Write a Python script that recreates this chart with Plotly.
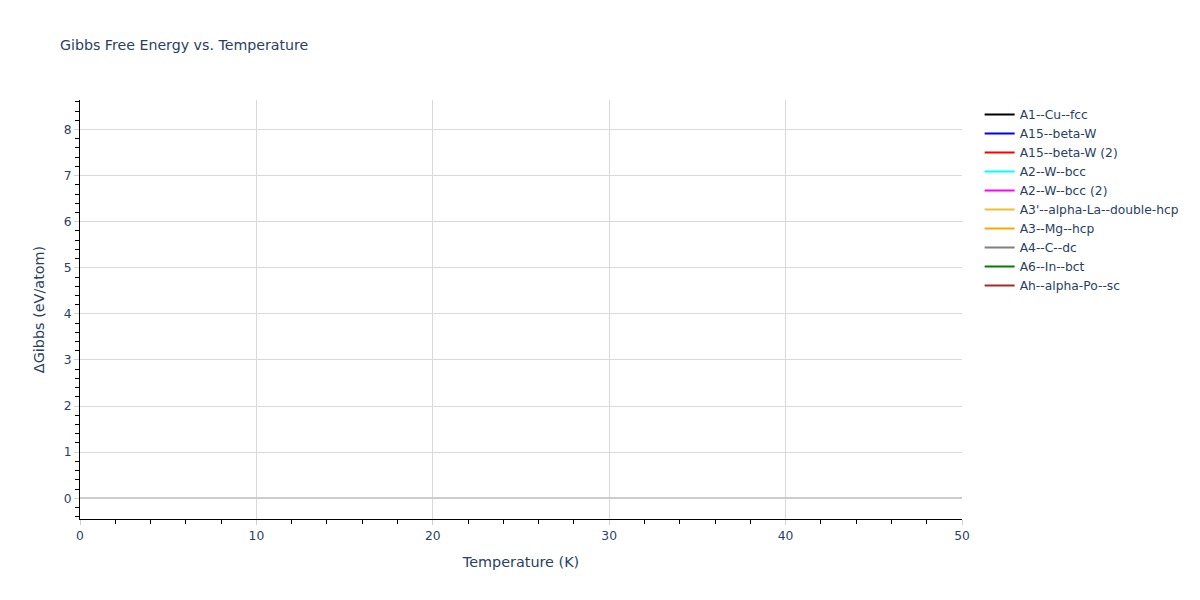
import plotly.graph_objects as go

# Series names and colours (legend); no line segments are visible in the plotted window
phases = ["A1--Cu--fcc", "A15--beta-W", "A15--beta-W (2)", "A2--W--bcc", "A2--W--bcc (2)",
          "A3'--alpha-La--double-hcp", "A3--Mg--hcp", "A4--C--dc", "A6--In--bct", "Ah--alpha-Po--sc"]
colors = ["black", "blue", "red", "cyan", "magenta", "#f0c030", "orange", "gray", "green", "brown"]
temperatures = [None]  # nothing visible in the 0-50 K window
gibbs = {p: [None] for p in phases}

FONT = "DejaVu Sans, Verdana, sans-serif"

fig = go.Figure()
for p, c in zip(phases, colors):
    fig.add_trace(go.Scatter(x=temperatures, y=gibbs[p], mode="lines", name=p,
                             line=dict(color=c, width=2), showlegend=True))

grid = "#d9d9d9"
fig.update_layout(
    template="plotly_white",
    width=1192, height=592,
    margin=dict(l=72, t=92, b=81, r=238, autoexpand=False),
    title=dict(text="Gibbs Free Energy vs. Temperature", x=0.0436, xanchor="left",
               yref="container", y=1 - 37 / 592, yanchor="middle", font=dict(size=14.2)),
    font=dict(family=FONT, color="#2a3f5f", size=12.3),
    legend=dict(font=dict(size=12.3)),
    plot_bgcolor="white",
)
fig.update_xaxes(title=dict(text="Temperature (K)", font=dict(size=14.4)), range=[0, 50], dtick=10,
                 showline=True, linecolor="black", linewidth=1, showgrid=True, gridcolor=grid,
                 ticks="outside", tickcolor="#d0d0d0", ticklen=5, zeroline=False, automargin=False,
                 minor=dict(ticks="outside", tickcolor="black", ticklen=4, dtick=2, showgrid=False))
fig.update_yaxes(title=dict(text="ΔGibbs (eV/atom)", font=dict(size=14.4)), range=[-0.45, 8.64], dtick=1,
                 showline=True, linecolor="black", linewidth=1, showgrid=True, gridcolor=grid,
                 ticks="outside", tickcolor="#d0d0d0", ticklen=5, automargin=False,
                 zeroline=True, zerolinecolor="#cccccc", zerolinewidth=2,
                 minor=dict(ticks="outside", tickcolor="black", ticklen=4, dtick=0.2, showgrid=False))

fig.write_html("out.html")
